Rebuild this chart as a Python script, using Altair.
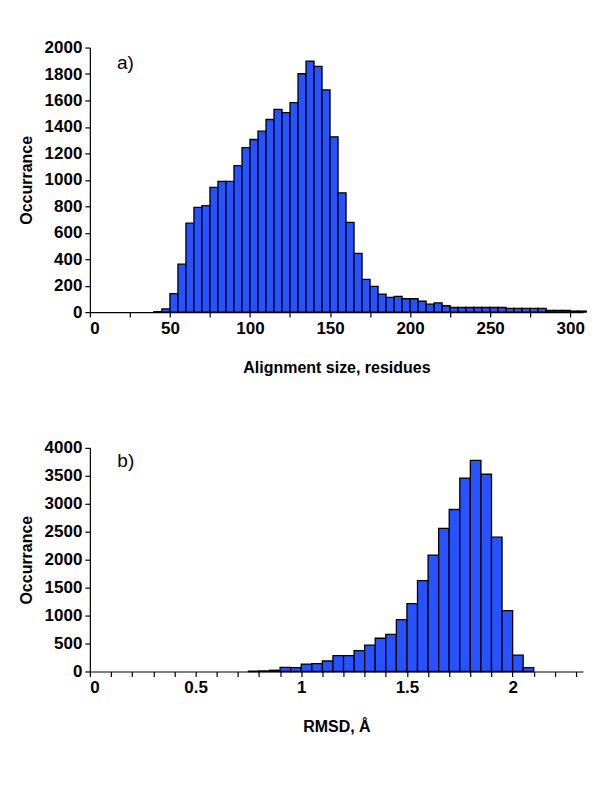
import altair as alt
import pandas as pd

# ---- data ----
size_bin_start = [40, 45, 50, 55, 60, 65, 70, 75, 80, 85, 90, 95, 100, 105, 110, 115, 120,
                  125, 130, 135, 140, 145, 150, 155, 160, 165, 170, 175, 180, 185, 190, 195,
                  200, 205, 210, 215, 220, 225, 230, 235, 240, 245, 250, 255, 260, 265, 270,
                  275, 280, 285, 290, 295, 300, 305]
size_counts = [3, 25, 140, 362, 672, 792, 805, 943, 988, 988, 1108, 1243, 1305, 1368, 1456,
               1532, 1508, 1583, 1802, 1898, 1858, 1680, 1325, 902, 678, 444, 248, 194, 136,
               111, 119, 101, 101, 82, 60, 70, 48, 35, 35, 35, 35, 35, 35, 35, 28, 28, 28,
               28, 28, 12, 12, 12, 8, 8]
SIZE_BIN = 5

rmsd_bin_start = [0.75, 0.80, 0.85, 0.90, 0.95, 1.00, 1.05, 1.10, 1.15, 1.20, 1.25, 1.30,
                  1.35, 1.40, 1.45, 1.50, 1.55, 1.60, 1.65, 1.70, 1.75, 1.80, 1.85, 1.90,
                  1.95, 2.00, 2.05]
rmsd_counts = [8, 10, 22, 72, 70, 133, 140, 188, 285, 283, 375, 472, 595, 665, 928, 1215,
               1625, 2082, 2560, 2898, 3460, 3775, 3528, 2402, 1090, 292, 68]
RMSD_BIN = 0.05

size_ticks = [0, 25, 50, 75, 100, 125, 150, 175, 200, 225, 250, 275, 300]
size_yticks = [0, 200, 400, 600, 800, 1000, 1200, 1400, 1600, 1800, 2000]
rmsd_ticks = [0, 0.1, 0.2, 0.3, 0.4, 0.5, 0.6, 0.7, 0.8, 0.9, 1.0, 1.1, 1.2, 1.3, 1.4,
              1.5, 1.6, 1.7, 1.8, 1.9, 2.0, 2.1, 2.2, 2.3]
rmsd_yticks = [0, 500, 1000, 1500, 2000, 2500, 3000, 3500, 4000]

panel_labels = ["a)", "b)"]
label_x = [17, 0.13]
label_y = [1841, 3650]

FILL = "#2653FF"
FONT = "Liberation Sans"

df_a = pd.DataFrame({"start": size_bin_start, "count": size_counts})
df_a["end"] = df_a["start"] + SIZE_BIN
df_b = pd.DataFrame({"start": rmsd_bin_start, "count": rmsd_counts})
df_b["end"] = df_b["start"] + RMSD_BIN

lab_a = pd.DataFrame({"x": [label_x[0]], "y": [label_y[0]], "t": [panel_labels[0]]})
lab_b = pd.DataFrame({"x": [label_x[1]], "y": [label_y[1]], "t": [panel_labels[1]]})

W = 494

x_a = alt.X("start:Q", scale=alt.Scale(domain=[0, 308], nice=False, zero=False),
            axis=alt.Axis(title="Alignment size, residues", values=size_ticks, format="d",
                          labelOverlap=False, tickCount=100,
                          labelExpr="datum.value % 50 == 0 ? datum.label : ''"))
y_a = alt.Y("count:Q", scale=alt.Scale(domain=[0, 2000], nice=False),
            axis=alt.Axis(title="Occurrance", values=size_yticks, format="d",
                          labelOverlap=False, tickCount=100))

bars_a = alt.Chart(df_a).mark_bar(fill=FILL, stroke="black", strokeWidth=1.3).encode(
    x=x_a, x2="end:Q", y=y_a, y2=alt.datum(0))
text_a = alt.Chart(lab_a).mark_text(align="left", baseline="alphabetic", fontSize=19,
                                     font=FONT, color="black").encode(
    x=alt.X("x:Q"), y=alt.Y("y:Q"), text="t:N")
chart_a = alt.layer(bars_a, text_a).properties(width=W, height=265)

x_b = alt.X("start:Q", scale=alt.Scale(domain=[0, 2.333], nice=False, zero=False),
            axis=alt.Axis(title="RMSD, Å", values=rmsd_ticks, format="~g",
                          labelOverlap=False, tickCount=100,
                          labelExpr="(round(datum.value*10) % 5 == 0) ? datum.label : ''"))
y_b = alt.Y("count:Q", scale=alt.Scale(domain=[0, 4000], nice=False),
            axis=alt.Axis(title="Occurrance", values=rmsd_yticks, format="d",
                          labelOverlap=False, tickCount=100))

bars_b = alt.Chart(df_b).mark_bar(fill=FILL, stroke="black", strokeWidth=1.3).encode(
    x=x_b, x2="end:Q", y=y_b, y2=alt.datum(0))
text_b = alt.Chart(lab_b).mark_text(align="left", baseline="alphabetic", fontSize=19,
                                     font=FONT, color="black").encode(
    x=alt.X("x:Q"), y=alt.Y("y:Q"), text="t:N")
chart_b = alt.layer(bars_b, text_b).properties(width=W, height=224)

chart = alt.vconcat(chart_a, chart_b, spacing=64).resolve_scale(x="independent", y="independent").properties(
    padding={"left": 10, "top": 30, "right": 5, "bottom": 5}
).configure_view(stroke=None).configure_axis(
    grid=False, domainColor="black", tickColor="black", labelColor="black",
    titleColor="black", labelFont=FONT, titleFont=FONT, labelFontWeight="bold",
    titleFontWeight="bold", labelFontSize=17, titleFontSize=16, tickSize=5,
    domainWidth=1.2, tickWidth=1.2
).configure_axisX(labelPadding=3, titlePadding=23).configure_axisY(labelPadding=3, titlePadding=10)

chart.save("out.html", embed_options={"renderer": "svg", "actions": False})
